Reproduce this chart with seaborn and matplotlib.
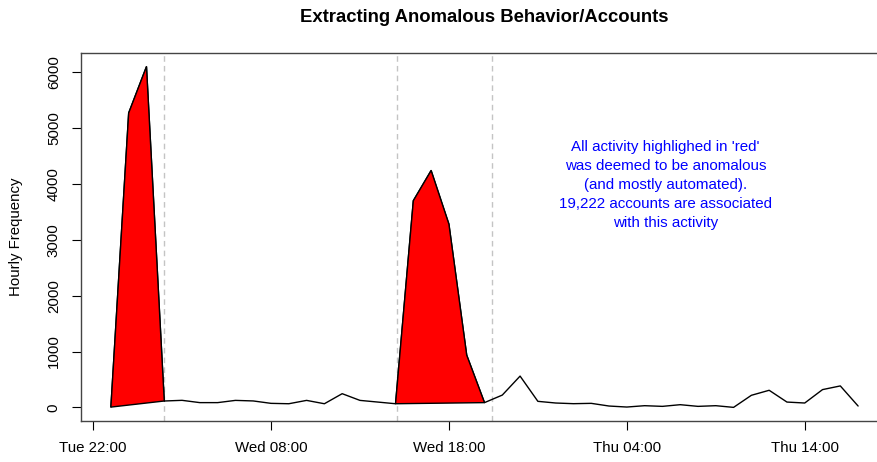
import pandas as pd
import seaborn as sns
import matplotlib
matplotlib.use("Agg")
import matplotlib.pyplot as plt
import matplotlib.dates as mdates

# Hourly counts, Tue 23:00 -> Thu 17:00
start = "2017-01-03 23:00"
counts = [5, 5270, 6100, 114, 126, 85, 85, 125, 115, 72, 65, 125, 65, 245,
          125, 95, 65, 3700, 4240, 3280, 935, 85, 220, 560, 108, 78, 66, 72,
          24, 6, 30, 18, 48, 18, 30, 0, 216, 306, 95, 78, 318, 384, 24]

# anomalous windows (index ranges into the hourly series)
anomaly_windows = [(0, 4), (16, 22)]

# dashed marker lines
marker_times = ["2017-01-04 02:00", "2017-01-04 15:05", "2017-01-04 20:25"]

tick_times = ["2017-01-03 22:00", "2017-01-04 08:00", "2017-01-04 18:00",
              "2017-01-05 04:00", "2017-01-05 14:00"]
tick_labels = ["Tue 22:00", "Wed 08:00", "Wed 18:00", "Thu 04:00", "Thu 14:00"]

note = ("All activity highlighed in 'red'\nwas deemed to be anomalous\n"
        "(and mostly automated).\n19,222 accounts are associated\nwith this activity")

df = pd.DataFrame({"time": pd.date_range(start, periods=len(counts), freq="h"),
                   "count": counts})

sns.set_style("ticks")
plt.rcParams["font.family"] = ["Liberation Sans", "DejaVu Sans"]
plt.rcParams["text.color"] = "black"
plt.rcParams["axes.labelcolor"] = "black"

fig = plt.figure(figsize=(8.78, 4.62), dpi=100)
ax = fig.add_axes([81 / 878, 41 / 462, 807 / 878, 368 / 462])

for t in marker_times:
    ax.axvline(pd.Timestamp(t), color="#c4c4c4", lw=1, ls=(0, (4, 3)), zorder=1)

for a, b in anomaly_windows:
    sub = df.iloc[a:b]
    ax.fill(mdates.date2num(sub["time"]), sub["count"], facecolor="red",
            edgecolor="black", lw=1, zorder=3)

sns.lineplot(data=df, x="time", y="count", color="black", lw=1, ax=ax, zorder=2)

# R-style 4% padding
t0, t1 = df["time"].min(), df["time"].max()
pad = (t1 - t0) * 0.04
ax.set_xlim(t0 - pad, t1 + pad)
ax.set_ylim(-244, 6344)

ax.set_xticks(pd.to_datetime(tick_times))
ax.set_xticklabels(tick_labels)
ax.set_yticks([0, 1000, 2000, 3000, 4000, 5000, 6000])
ax.tick_params(axis="y", labelrotation=90, length=6.5, width=0.8, pad=8,
               labelsize=10.8, colors="black")
ax.tick_params(axis="x", length=6.5, width=0.8, pad=8, labelsize=10.8,
               colors="black")
for lab in ax.get_yticklabels():
    lab.set_va("center")

for s in ["left", "top", "bottom", "right"]:
    ax.spines[s].set_color("#444444")
    ax.spines[s].set_linewidth(1)

ax.set_xlabel("")
ax.set_ylabel("Hourly Frequency", fontsize=10.8)
ax.yaxis.set_label_coords(-0.072, 0.5)

ax.text(0.724, 0.641, note, transform=ax.transAxes, ha="center", va="center",
        color="blue", fontsize=10.9, linespacing=1.46)

fig.text(484 / 878, 1 - 17 / 462, "Extracting Anomalous Behavior/Accounts",
         ha="center", va="center", fontsize=13.3, fontweight="bold")

fig.savefig("out.png", dpi=100)
